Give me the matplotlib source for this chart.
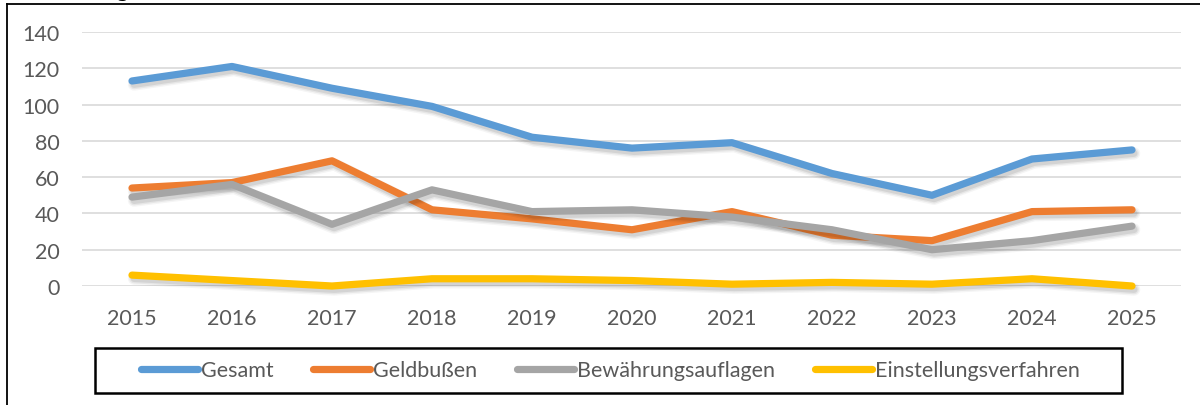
import numpy as np
import matplotlib.pyplot as plt
import matplotlib.patheffects as pe
from matplotlib.lines import Line2D
from matplotlib.patches import Rectangle

years = ['2015', '2016', '2017', '2018', '2019', '2020', '2021', '2022', '2023', '2024', '2025']
gesamt = [113, 121, 109, 99, 82, 76, 79, 62, 50, 70, 75]
geldbussen = [54, 57, 69, 42, 37, 31, 41, 28, 25, 41, 42]
bewaehrung = [49, 56, 34, 53, 41, 42, 38, 31, 20, 25, 33]
einstellung = [6, 3, 0, 4, 4, 3, 1, 2, 1, 4, 0]

series = [
    ('Gesamt', gesamt, '#5B9BD5'),
    ('Geldbußen', geldbussen, '#ED7D31'),
    ('Bewährungsauflagen', bewaehrung, '#A5A5A5'),
    ('Einstellungsverfahren', einstellung, '#FFC000'),
]

plt.rcParams['font.family'] = ['Lato', 'DejaVu Sans']

W, H = 1200, 406
fig = plt.figure(figsize=(W / 100, H / 100), dpi=100)
ax = fig.add_axes([82 / W, 1 - 287 / H, (1181 - 82) / W, 254 / H])

x = np.arange(len(years))
# soft drop shadow, roughly like the Excel effect
shadow = [
    pe.SimpleLineShadow(offset=(1.5, -2.5), shadow_color='black', alpha=0.04, linewidth=9),
    pe.SimpleLineShadow(offset=(1.5, -2.5), shadow_color='black', alpha=0.06, linewidth=7),
    pe.SimpleLineShadow(offset=(1.5, -2.5), shadow_color='black', alpha=0.08, linewidth=5),
    pe.Normal(),
]
for name, vals, col in series:
    ax.plot(x, vals, color=col, lw=5.2, label=name, solid_capstyle='round',
            solid_joinstyle='round', clip_on=False, path_effects=shadow, zorder=3)

ax.set_xlim(-0.5, 10.49)
ax.set_ylim(0, 140)
ax.set_yticks(range(0, 141, 20))
ax.set_xticks(x)
ax.set_xticklabels(years)
ax.grid(axis='y', color='#D9D9D9', lw=1.2)
ax.set_axisbelow(True)
for s in ax.spines.values():
    s.set_visible(False)
ax.tick_params(length=0, labelsize=15.5, labelcolor='#595959')
ax.tick_params(axis='x', pad=16)
ax.tick_params(axis='y', pad=16)

leg = fig.legend(loc='center', bbox_to_anchor=(610.5 / W, 1 - 371.5 / H), ncol=4,
                 fontsize=15.5, frameon=False,
                 handlelength=2.65, handletextpad=0.14, columnspacing=1.85,
                 labelcolor='#595959')
for h in leg.get_lines():
    h.set_path_effects([])
    h.set_linewidth(5.2)
# legend box drawn separately (wider padding than matplotlib's)
fig.add_artist(Rectangle((95 / W, 1 - 394 / H), 1027 / W, 45 / H, fill=False,
                         ec='black', lw=1.8))

# outer frame (partly cut off)
fig.add_artist(Line2D([7 / W, 7 / W], [0, 1 - 4.5 / H], color='black', lw=1.3))
fig.add_artist(Line2D([7 / W, 1], [1 - 4.5 / H, 1 - 4.5 / H], color='black', lw=1.3))
fig.text(118 / W, 1 + 4 / H, 'g', fontsize=17, fontweight='bold', fontstyle='italic',
         family='Liberation Serif', va='baseline')

fig.savefig('out.png', dpi=100)
